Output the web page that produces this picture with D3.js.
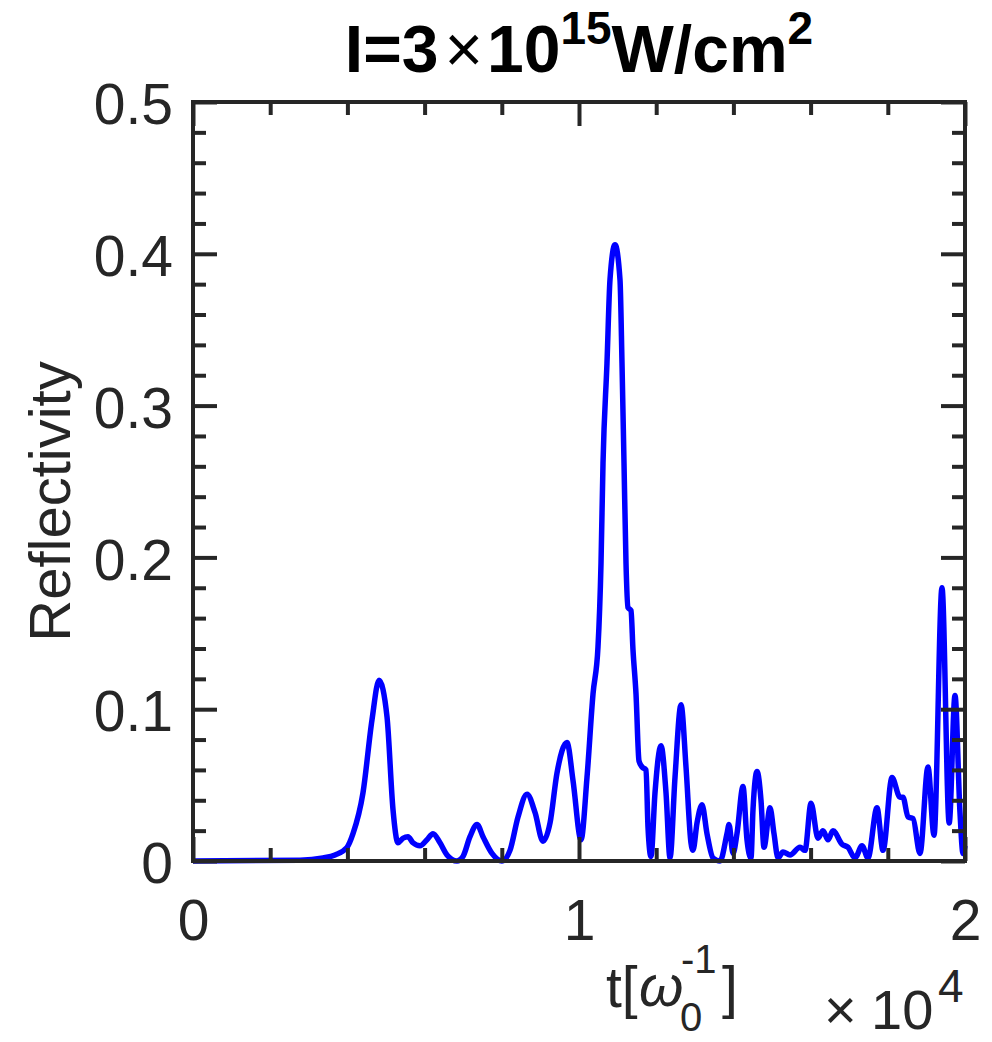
<!DOCTYPE html>
<html>
<head>
<meta charset="utf-8">
<script src="https://cdn.jsdelivr.net/npm/d3@7"></script>
<style>
body { margin: 0; background: #fff; }
svg { font-family: "Liberation Sans", Arial, Helvetica, sans-serif; }
</style>
</head>
<body>
<svg id="svg" width="992" height="1042"></svg>
<script>

// time in units of 1/omega0 (axis shows x10^4)
var tValues = [0, 2772, 3368, 3679, 3990, 4145, 4404, 4637, 4819, 5026, 5181, 5311, 5440, 5570, 5699, 5881,
    6062, 6218, 6399, 6580, 6839, 6995, 7176, 7358, 7513, 7746, 8005, 8212, 8420, 8653, 8860, 9067,
    9249, 9430, 9689, 9845, 10052, 10207, 10363, 10492, 10570, 10622, 10725, 10803, 10933, 11062, 11114,
    11166, 11218, 11269, 11347, 11399, 11477, 11554, 11632, 11736, 11788, 11865, 11969, 12124, 12254,
    12358, 12487, 12643, 12772, 12901, 12953, 13057, 13187, 13316, 13472, 13653, 13834, 13886, 13990,
    14093, 14249, 14352, 14456, 14508, 14612, 14715, 14793, 14948, 15052, 15156, 15285, 15466, 15726,
    15855, 16011, 16192, 16321, 16451, 16580, 16814, 16969, 17150, 17332, 17487, 17720, 17876, 18109,
    18316, 18394, 18523, 18653, 18834, 19041, 19197, 19404, 19590, 19741, 19870, 19948, 20000];

var reflectivity = [0, 0.0005, 0.002, 0.004, 0.009, 0.018, 0.045, 0.093, 0.119, 0.095, 0.034, 0.012, 0.015, 0.016, 0.012, 0.010,
    0.014, 0.018, 0.012, 0.004, 0.000, 0.003, 0.016, 0.024, 0.016, 0.005, 0.000, 0.007, 0.029, 0.044, 0.032, 0.013,
    0.025, 0.058, 0.078, 0.053, 0.014, 0.055, 0.110, 0.141, 0.196, 0.262, 0.328, 0.383, 0.406, 0.383, 0.328,
    0.262, 0.196, 0.167, 0.165, 0.139, 0.110, 0.066, 0.062, 0.060, 0.022, 0.003, 0.045, 0.076, 0.045,
    0.002, 0.055, 0.103, 0.062, 0.012, 0.007, 0.025, 0.037, 0.018, 0.002, 0.000, 0.018, 0.024, 0.005,
    0.018, 0.049, 0.014, 0.002, 0.034, 0.059, 0.040, 0.009, 0.035, 0.018, 0.002, 0.006, 0.004, 0.009,
    0.007, 0.038, 0.015, 0.020, 0.014, 0.020, 0.011, 0.009, 0.002, 0.010, 0.002, 0.035, 0.007, 0.055,
    0.042, 0.042, 0.029, 0.028, 0.005, 0.062, 0.017, 0.180, 0.025, 0.109, 0.032, 0.005, 0.010];

var xMajorTicks = [0, 10000, 20000];
var xMinorTicks = [2000, 4000, 6000, 8000, 12000, 14000, 16000, 18000];
var yMajorTicks = [0, 0.1, 0.2, 0.3, 0.4, 0.5];
var yMinorTicks = [0.02, 0.04, 0.06, 0.08, 0.12, 0.14, 0.16, 0.18, 0.22, 0.24, 0.26, 0.28,
    0.32, 0.34, 0.36, 0.38, 0.42, 0.44, 0.46, 0.48];

var data = tValues.map(function (t, i) { return {t: t, r: reflectivity[i]}; });

var svg = d3.select("#svg");
var axisColor = "#262626";

var padding = {top: 102, right: 27, bottom: 181, left: 193};
var chartArea = {
    "width": 992 - padding.left - padding.right,
    "height": 1042 - padding.top - padding.bottom
};

var xScale = d3.scaleLinear()
    .domain([0, 20000])
    .range([0, chartArea.width]);

var yScale = d3.scaleLinear()
    .domain([0, 0.5])
    .range([chartArea.height, 0]);

var plot = svg.append("g")
    .attr("transform", "translate(" + padding.left + "," + padding.top + ")");

// the curve
var line = d3.line()
    .x(function (d) { return xScale(d.t); })
    .y(function (d) { return yScale(d.r); })
    .curve(d3.curveMonotoneX);

plot.append("path")
    .datum(data)
    .attr("d", line)
    .attr("fill", "none")
    .attr("stroke", "#0000ff")
    .attr("stroke-width", 5.5)
    .attr("stroke-linejoin", "round");

// axes, ticks pointing inward on all four sides
function styleAxis(g) {
    g.select(".domain").remove();
    g.selectAll(".tick line").attr("stroke", axisColor).attr("stroke-width", 4);
    g.selectAll(".tick text").attr("fill", axisColor).attr("font-size", 57);
}

var sides = [
    {axis: d3.axisBottom, sc: xScale, major: xMajorTicks, minor: xMinorTicks, tr: "translate(0," + chartArea.height + ")", labels: true},
    {axis: d3.axisTop, sc: xScale, major: xMajorTicks, minor: xMinorTicks, tr: "translate(0,0)", labels: false},
    {axis: d3.axisLeft, sc: yScale, major: yMajorTicks, minor: yMinorTicks, tr: "translate(0,0)", labels: true},
    {axis: d3.axisRight, sc: yScale, major: yMajorTicks, minor: yMinorTicks, tr: "translate(" + chartArea.width + ",0)", labels: false}
];

sides.forEach(function (s) {
    plot.append("g")
        .attr("transform", s.tr)
        .call(s.axis(s.sc).tickValues(s.minor).tickSize(-13).tickFormat(""))
        .call(styleAxis);

    var isX = (s.sc === xScale);
    var major = s.axis(s.sc).tickValues(s.major).tickSize(-24)
        .tickPadding(isX ? 39 : 20)
        .tickFormat(function (d) {
            if (!s.labels) return "";
            return isX ? d3.format("d")(d / 10000) : (d === 0 ? "0" : d3.format(".1f")(d));
        });
    var g = plot.append("g")
        .attr("transform", s.tr)
        .call(major)
        .call(styleAxis);
    if (!isX) g.selectAll(".tick text").attr("dy", "0.38em");
});

plot.append("rect")
    .attr("width", chartArea.width)
    .attr("height", chartArea.height)
    .attr("fill", "none")
    .attr("stroke", axisColor)
    .attr("stroke-width", 4);

// title
var title = svg.append("text")
    .attr("x", padding.left + chartArea.width / 2)
    .attr("y", 72)
    .attr("text-anchor", "middle")
    .attr("font-size", 66)
    .attr("font-weight", "bold")
    .attr("fill", "#000");
title.append("tspan").text("I=3");
title.append("tspan").attr("font-weight", "normal").attr("dx", 6).text("×");
title.append("tspan").attr("dx", 4).text("10");
title.append("tspan").attr("font-size", 46).attr("dy", -28).text("15");
title.append("tspan").attr("dy", 28).text("W/cm");
title.append("tspan").attr("font-size", 46).attr("dy", -28).text("2");

// y label
svg.append("text")
    .attr("transform", "translate(70," + (padding.top + chartArea.height / 2 + 20) + ") rotate(-90)")
    .attr("text-anchor", "middle")
    .attr("font-size", 58)
    .attr("fill", axisColor)
    .text("Reflectivity");

// x label  t[ω0^-1]
var xl = svg.append("g").attr("fill", axisColor);
xl.append("text").attr("x", 606).attr("y", 1007).attr("font-size", 57).text("t[");
xl.append("text").attr("x", 639).attr("y", 1006).attr("font-size", 57).attr("font-style", "italic").text("ω");
xl.append("text").attr("x", 680).attr("y", 1031).attr("font-size", 40).text("0");
xl.append("text").attr("x", 681).attr("y", 973).attr("font-size", 40).text("-1");
xl.append("text").attr("x", 722).attr("y", 1007).attr("font-size", 57).text("]");

// exponent x10^4
var ex = svg.append("g").attr("fill", axisColor);
ex.append("text").attr("x", 824).attr("y", 1029).attr("font-size", 56).text("×");
ex.append("text").attr("x", 871).attr("y", 1029).attr("font-size", 56).text("10");
ex.append("text").attr("x", 938).attr("y", 1002).attr("font-size", 46).text("4");

</script>
</body>
</html>
